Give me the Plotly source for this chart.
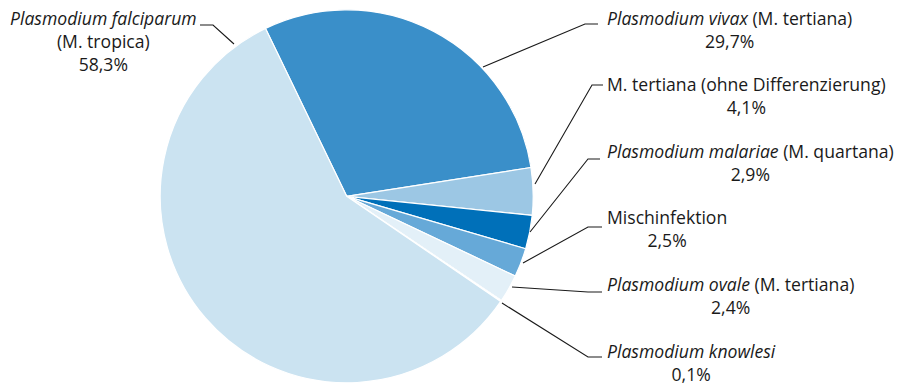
import plotly.graph_objects as go

W, H = 902, 387

# data (clockwise from the upper edge)
names = ["Plasmodium vivax", "M. tertiana (ohne Differenzierung)", "Plasmodium malariae",
         "Mischinfektion", "Plasmodium ovale", "Plasmodium knowlesi", "Plasmodium falciparum"]
values = [29.7, 4.1, 2.9, 2.5, 2.4, 0.1, 58.3]
label_texts = [
    "<i>Plasmodium vivax</i> (M. tertiana)<br>29,7%",
    "M. tertiana (ohne Differenzierung)<br>4,1%",
    "<i>Plasmodium malariae</i> (M. quartana)<br>2,9%",
    "Mischinfektion<br>2,5%",
    "<i>Plasmodium ovale</i> (M. tertiana)<br>2,4%",
    "<i>Plasmodium knowlesi</i><br>0,1%",
    "<i>Plasmodium falciparum</i><br>(M. tropica)<br>58,3%",
]
colors = ["#3a8fc9", "#9cc7e4", "#0070b9", "#66a9d8", "#e3f0f8", "#4a9ad4", "#cbe3f1"]

# label placement in pixels: (x, y of first line centre, xanchor)
label_pos = [(605, 19, "left"), (605, 85, "left"), (605, 152, "left"), (605, 218, "left"),
             (605, 285, "left"), (605, 352, "left"), (199, 19, "right")]
# leader lines in pixels
leaders = [
    [(483, 67), (585, 24), (598, 24)],
    [(535, 184), (592, 85), (603, 85)],
    [(530, 232), (588, 159), (600, 159)],
    [(523, 263), (588, 227), (602, 227)],
    [(512, 287), (588, 292), (602, 292)],
    [(502, 303), (588, 357), (602, 357)],
    [(234, 44), (213, 25), (200, 25)],
]

cx, cy, r = 346.7, 196.3, 186.5
FS = 17.6

fig = go.Figure(go.Pie(
    labels=names, values=values, sort=False, direction="clockwise", rotation=-25.8,
    marker=dict(colors=colors, line=dict(color="white", width=1.2)),
    textinfo="none", hoverinfo="label+percent", showlegend=False,
    domain=dict(x=[(cx - r) / W, (cx + r) / W], y=[1 - (cy + r) / H, 1 - (cy - r) / H]),
))

def px2p(x, y):
    return x / W, 1 - y / H

shapes = []
for pts in leaders:
    path = "M " + " L ".join(f"{px2p(x, y)[0]:.5f},{px2p(x, y)[1]:.5f}" for x, y in pts)
    shapes.append(dict(type="path", xref="paper", yref="paper", path=path,
                       line=dict(color="#1a1a1a", width=1.1)))

annotations = []
for txt, (x, y, anchor) in zip(label_texts, label_pos):
    px_, py_ = px2p(x, y - 15)
    annotations.append(dict(text=txt, x=px_, y=py_, xref="paper", yref="paper",
                            xanchor=anchor, yanchor="top", align="center", showarrow=False,
                            font=dict(size=FS, color="#1a1a1a")))

fig.update_layout(
    width=W, height=H, margin=dict(l=0, r=0, t=0, b=0),
    paper_bgcolor="white", plot_bgcolor="white",
    font=dict(family="Open Sans, sans-serif", size=FS, color="#1a1a1a"),
    shapes=shapes, annotations=annotations,
)

fig.write_html("out.html", config={"displayModeBar": False},
               post_script="document.body.style.margin='0';")
